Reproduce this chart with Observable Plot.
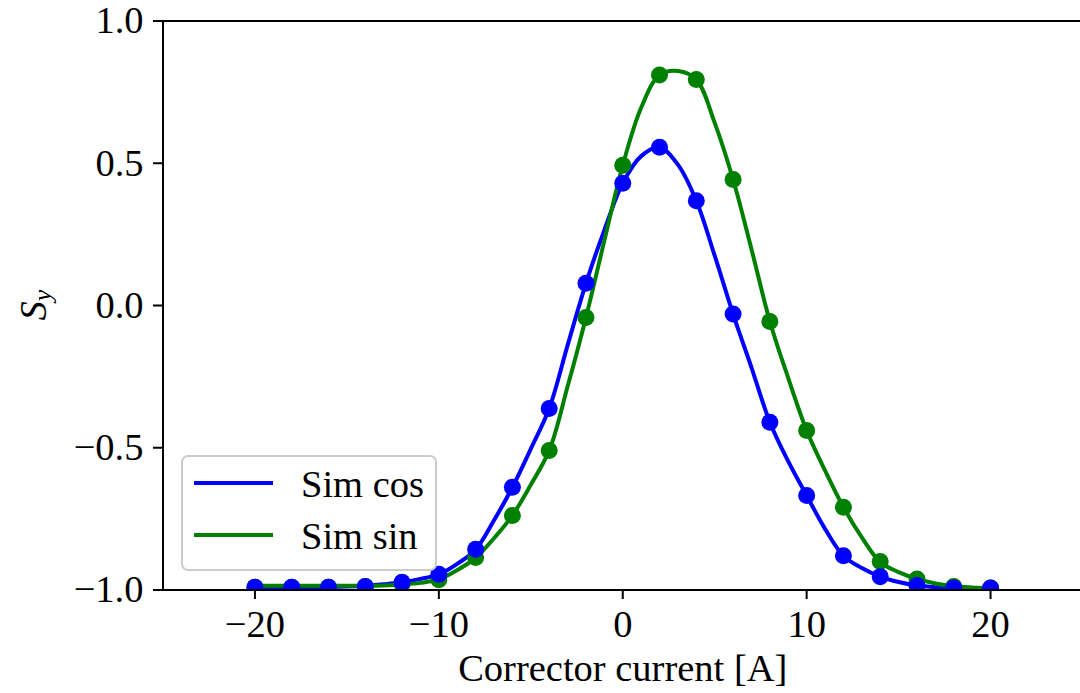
<!DOCTYPE html>
<html>
<head>
<meta charset="utf-8">
<script src="https://cdn.jsdelivr.net/npm/d3@7"></script>
<script src="https://cdn.jsdelivr.net/npm/@observablehq/plot@0.6"></script>
<style>
  body { margin: 0; background: #fff; }
  #wrap { position: relative; width: 1080px; height: 693px; overflow: hidden; color: #000; font-family: "Liberation Serif", serif; }
  #legend { position: absolute; left: 181px; top: 455px; width: 256px; height: 116px; border: 2px solid #cccccc; border-radius: 7px; background: rgba(255,255,255,0.8); box-sizing: border-box; }
  .sw { position: absolute; left: 194px; width: 79px; height: 4px; }
  .lt { position: absolute; left: 301px; white-space: nowrap; font-size: 38.5px; line-height: 38.5px; }
  #ylab { position: absolute; left: 38px; top: 305px; transform: translate(-50%, -50%) rotate(-90deg); white-space: nowrap; font-size: 38.5px; line-height: 38.5px; }
  #ylab sub { font-size: 0.68em; vertical-align: -0.2em; }
</style>
</head>
<body>
<div id="wrap">
  <div id="chart"></div>
  <div id="legend"></div>
  <div class="sw" style="top:481px;background:#0000ff;"></div>
  <div class="lt" style="top:465px;">Sim cos</div>
  <div class="sw" style="top:533px;background:#008000;"></div>
  <div class="lt" style="top:517px;">Sim sin</div>
  <div id="ylab"><i>S</i><sub><i>y</i></sub></div>
</div>
<script>
// ---- data ----
const xDots = [-20,-18,-16,-14,-12,-10,-8,-6,-4,-2,0,2,4,6,8,10,12,14,16,18,20];
const cosDots = [-0.99,-0.99,-0.99,-0.988,-0.973,-0.945,-0.857,-0.639,-0.362,0.078,0.43,0.556,0.368,-0.03,-0.41,-0.668,-0.88,-0.953,-0.984,-0.993,-0.993];
const sinDots = [-0.99,-0.99,-0.99,-0.988,-0.98,-0.964,-0.886,-0.738,-0.51,-0.042,0.493,0.81,0.794,0.443,-0.056,-0.439,-0.709,-0.9,-0.961,-0.988,-0.993];

const xLine = [-20,-19,-18,-17,-16,-15,-14,-13,-12,-11,-10,-9,-8,-7,-6,-5,-4,-3,-2,-1,0,1,2,3,4,5,6,7,8,9,10,11,12,13,14,15,16,17,18,19,20];
const cosLine = [-0.99,-0.99,-0.99,-0.99,-0.989,-0.988,-0.985,-0.98,-0.973,-0.961,-0.945,-0.908,-0.858,-0.755,-0.639,-0.504,-0.362,-0.14,0.078,0.265,0.43,0.525,0.556,0.495,0.368,0.175,-0.03,-0.218,-0.41,-0.548,-0.668,-0.785,-0.88,-0.923,-0.953,-0.972,-0.984,-0.99,-0.993,-0.994,-0.995];
const sinLine = [-0.985,-0.985,-0.985,-0.985,-0.985,-0.985,-0.985,-0.984,-0.981,-0.975,-0.963,-0.93,-0.887,-0.818,-0.738,-0.63,-0.51,-0.285,-0.042,0.228,0.493,0.695,0.81,0.824,0.794,0.642,0.443,0.198,-0.056,-0.255,-0.439,-0.58,-0.709,-0.815,-0.902,-0.937,-0.961,-0.977,-0.987,-0.991,-0.993];

const xTicks = [-20,-10,0,10,20];
const yTicks = [-1,-0.5,0,0.5,1];
const xLabel = "Corrector current [A]";

const FAMILY = '"Liberation Serif", serif';
const FS = 38.5;

// ---- tables ----
const cosLineData = xLine.map((x, i) => ({x, y: cosLine[i]}));
const sinLineData = xLine.map((x, i) => ({x, y: sinLine[i]}));
const cosDotData = xDots.map((x, i) => ({x, y: cosDots[i]}));
const sinDotData = xDots.map((x, i) => ({x, y: sinDots[i]}));

const BLUE = "#0000ff", GREEN = "#008000";

const chart = Plot.plot({
  width: 1080,
  height: 693,
  marginLeft: 162,
  marginRight: 0,
  marginTop: 20,
  marginBottom: 103,
  style: {fontFamily: FAMILY, fontSize: FS + "px", color: "#000", background: "transparent"},
  x: {domain: [-25, 25], range: [162.5, 1082]},
  y: {domain: [-1, 1], range: [589.5, 20.5]},
  marks: [
    Plot.line(cosLineData, {x: "x", y: "y", stroke: BLUE, strokeWidth: 4, curve: "catmull-rom"}),
    Plot.line(sinLineData, {x: "x", y: "y", stroke: GREEN, strokeWidth: 4, curve: "catmull-rom"}),
    Plot.dot(sinDotData, {x: "x", y: "y", r: 8.5, fill: GREEN, stroke: "none", clip: true}),
    Plot.dot(cosDotData, {x: "x", y: "y", r: 8.5, fill: BLUE, stroke: "none", clip: true}),
    Plot.ruleX([-25], {stroke: "#000", strokeWidth: 2}),
    Plot.ruleY([1, -1], {stroke: "#000", strokeWidth: 2}),
    Plot.axisX(xTicks, {tickSize: 9, tickPadding: 10, strokeWidth: 2, fontSize: FS, fontFamily: FAMILY, tickFormat: d3.format("d"), label: null}),
    Plot.axisY(yTicks, {tickSize: 9, tickPadding: 10, strokeWidth: 2, fontSize: FS, fontFamily: FAMILY, tickFormat: d3.format(".1f"), label: null}),
    Plot.text([0], {x: d => d, frameAnchor: "bottom", dy: 78, lineAnchor: "middle", text: () => xLabel, fontSize: FS, fontFamily: FAMILY, fill: "#000"})
  ]
});
document.getElementById("chart").appendChild(chart);
</script>
</body>
</html>
